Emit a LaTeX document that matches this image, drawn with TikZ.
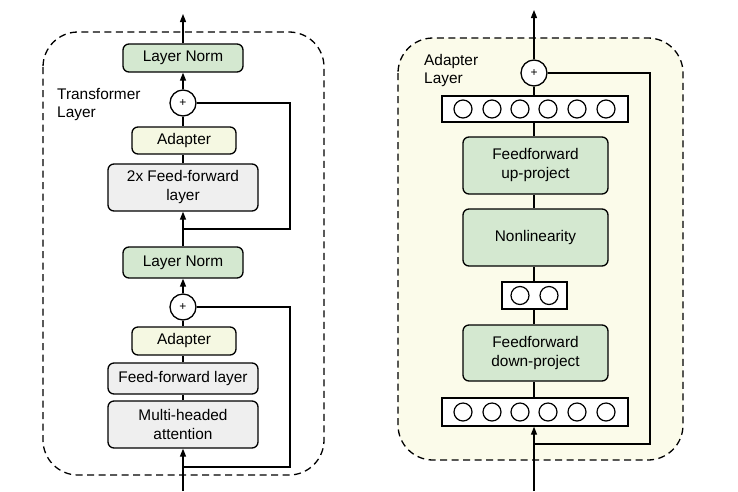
\documentclass[tikz,border=0pt]{standalone}
\usepackage{fontspec}
\setmainfont{Liberation Sans}
\usetikzlibrary{arrows.meta}
\definecolor{gfill}{HTML}{D4E8D0}
\definecolor{yfill}{HTML}{F5F8E2}
\definecolor{kfill}{HTML}{EFEFEF}
\definecolor{bgfill}{HTML}{FBFBEA}
\tikzset{
  box/.style={draw, rounded corners=6pt, line width=1.3pt, align=center, inner sep=0pt, font=\fontsize{15.4}{19}\selectfont},
  gbox/.style={box, fill=gfill},
  ybox/.style={box, fill=yfill},
  kbox/.style={box, fill=kfill},
  vec/.style={draw, line width=1.3pt, fill=white, inner sep=0pt},
  unit/.style={draw, circle, line width=1.2pt, minimum size=18pt, inner sep=0pt},
  plus/.style={draw, circle, line width=1.3pt, fill=white, minimum size=26pt, inner sep=0pt, font=\fontsize{12}{12}\selectfont},
  ln/.style={line width=1.3pt},
  arr/.style={line width=1.3pt, -{Triangle[length=8pt,width=6pt]}},
  frame/.style={dashed, dash pattern=on 7pt off 4.5pt, line width=1.3pt, rounded corners=35pt},
  lbl/.style={align=left, anchor=north west, inner sep=0pt, font=\fontsize{15.4}{18.5}\selectfont}
}
\begin{document}
\begin{tikzpicture}[x=1pt,y=-1pt]
\useasboundingbox (0,0) rectangle (738,491);
% frames
\draw[frame] (43,32) rectangle (324,475);
\draw[frame, fill=bgfill] (398,38) rectangle (683,460);
% ---------- left: transformer layer
\node[lbl] (tl) at (57,88) {Transformer\\Layer};
\node[gbox, minimum width=120pt, minimum height=28pt] (ln1) at (183,58) {Layer Norm};
\node[plus] (p1) at (183,103) {+};
\node[ybox, minimum width=104pt, minimum height=27pt] (ad1) at (184,140.5) {Adapter};
\node[kbox, minimum width=150pt, minimum height=47pt] (ff2) at (183,187.5) {2x Feed-forward\\layer};
\node[gbox, minimum width=120pt, minimum height=31pt] (ln2) at (183,262.5) {Layer Norm};
\node[plus] (p2) at (183,307) {+};
\node[ybox, minimum width=104pt, minimum height=28pt] (ad2) at (184,341) {Adapter};
\node[kbox, minimum width=150pt, minimum height=31pt] (ff1) at (183,378.5) {Feed-forward layer};
\node[kbox, minimum width=150pt, minimum height=47pt] (mha) at (183,424.5) {Multi-headed\\attention};
\coordinate (tout) at (183,14);
\coordinate (j1) at (183,229);
\coordinate (c1a) at (290,229);
\coordinate (c1b) at (290,103);
\coordinate (tin) at (183,491);
\coordinate (j2) at (183,467);
\coordinate (c2a) at (290,467);
\coordinate (c2b) at (290,307);
\draw[arr] (ln1.north) -- (tout);
\draw[arr] (p1.north) -- (ln1.south);
\draw[ln] (ad1.north -| p1) -- (p1.south);
\draw[ln] (ff2.north) -- (ff2.north |- ad1.south);
\draw[ln] (ln2.north) -- (j1);
\draw[arr] (j1) -- (ff2.south);
\draw[ln] (j1) -- (c1a) -- (c1b) -- (p1.east);
\draw[arr] (p2.north) -- (ln2.south);
\draw[ln] (ad2.north -| p2) -- (p2.south);
\draw[ln] (ff1.north) -- (ff1.north |- ad2.south);
\draw[ln] (mha.north) -- (ff1.south);
\draw[arr] (tin) -- (mha.south);
\draw[ln] (j2) -- (c2a) -- (c2b) -- (p2.east);
% ---------- right: adapter layer
\node[lbl] (al) at (424,54) {Adapter\\Layer};
\node[plus] (pr) at (534,73) {+};
\node[vec, minimum width=186pt, minimum height=26pt] (vt) at (535,109) {};
\node[gbox, minimum width=145pt, minimum height=57pt] (fu) at (535.5,165.5) {Feedforward\\up-project};
\node[gbox, minimum width=145pt, minimum height=57pt] (nl) at (535.5,237.5) {Nonlinearity};
\node[vec, minimum width=65pt, minimum height=27pt] (vs) at (534.5,295.5) {};
\node[gbox, minimum width=145pt, minimum height=56pt] (fd) at (535.5,353) {Feedforward\\down-project};
\node[vec, minimum width=186pt, minimum height=28pt] (vb) at (535,412) {};
\foreach \i/\x in {1/463,2/492,3/520,4/548,5/577,6/606} {
  \node[unit] (t\i) at (\x,109) {};
  \node[unit] (b\i) at (\x,412) {};
}
\node[unit] (s1) at (520,295.5) {};
\node[unit] (s2) at (549,295.5) {};
\coordinate (rout) at (534,10);
\coordinate (rin) at (534,491);
\coordinate (jr) at (534,444);
\coordinate (cra) at (650,444);
\coordinate (crb) at (650,73);
\draw[arr] (pr.north) -- (rout);
\draw[ln] (vt.north -| pr) -- (pr.south);
\draw[ln] (fu.north -| pr) -- (vt.south -| pr);
\draw[ln] (nl.north -| pr) -- (fu.south -| pr);
\draw[ln] (vs.north -| pr) -- (nl.south -| pr);
\draw[ln] (fd.north -| pr) -- (vs.south -| pr);
\draw[ln] (vb.north -| pr) -- (fd.south -| pr);
\draw[arr] (rin) -- (vb.south -| pr);
\draw[ln] (jr) -- (cra) -- (crb) -- (pr.east);
\end{tikzpicture}
\end{document}
